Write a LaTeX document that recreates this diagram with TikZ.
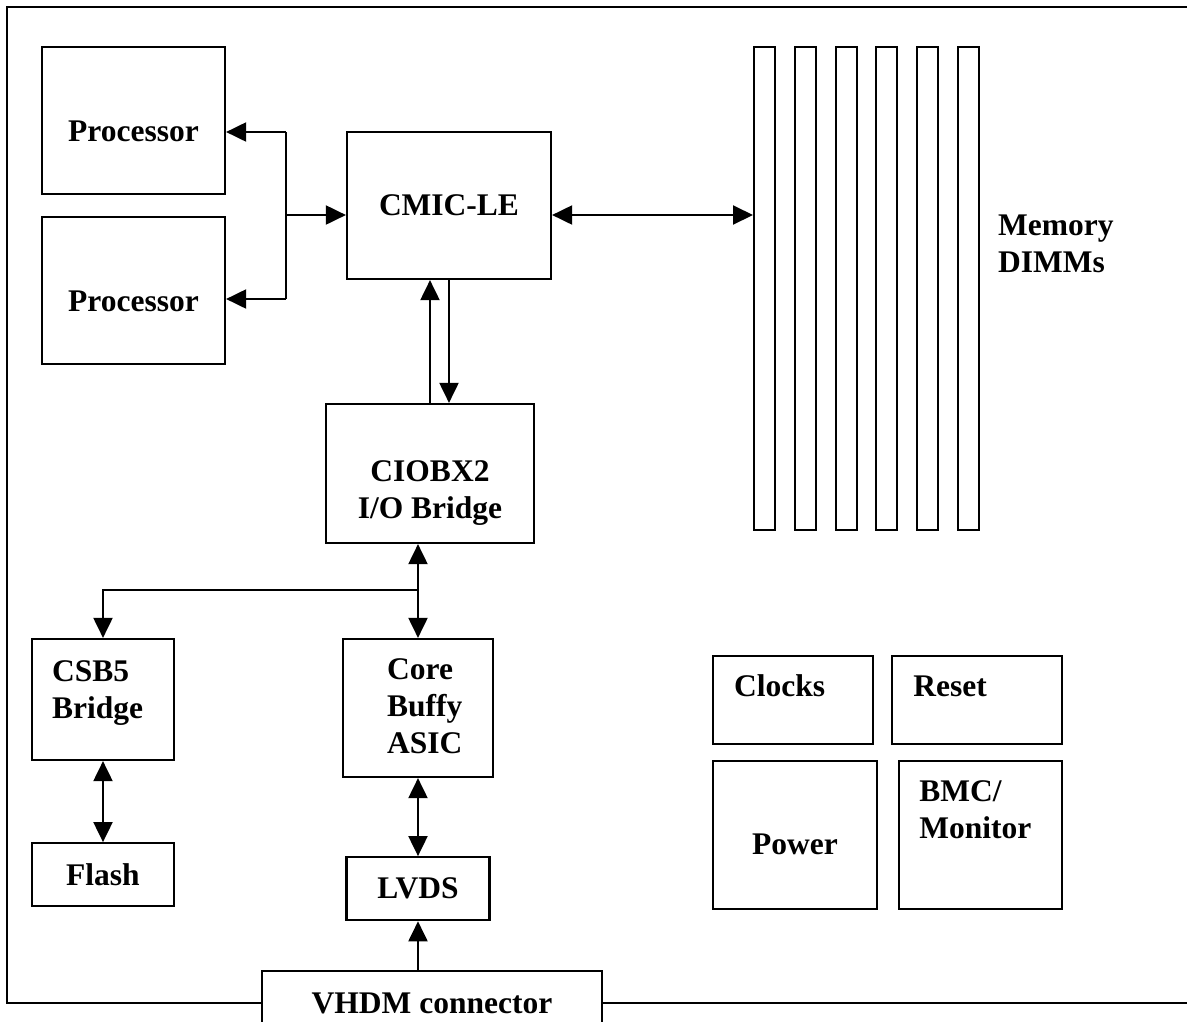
\documentclass[tikz,border=0pt]{standalone}
\usepackage{fontspec}
\setmainfont{Liberation Serif}
\usetikzlibrary{arrows.meta,positioning}

\begin{document}
\begin{tikzpicture}[x=1pt, y=-1pt, font=\bfseries\fontsize{31.5}{37}\selectfont,
  box/.style={draw, line width=2.2pt, fill=white},
  dimm/.style={draw, line width=2pt, minimum width=21pt, minimum height=483pt},
  lbl/.style={inner sep=0pt},
  arr/.style={-{Triangle[length=20pt,width=19pt]}, line width=2pt},
  dblarr/.style={{Triangle[length=20pt,width=19pt]}-{Triangle[length=20pt,width=19pt]}, line width=2pt}]
  \useasboundingbox (0,0) rectangle (1187,1021);
  \clip (0,0) rectangle (1187,1021);
  % board outline
  \draw[line width=2.4pt] (1200,1003) -| (7,7) -- (1200,7);

  % processors and memory controller
  \node[box, minimum width=183pt, minimum height=147pt] (proc1) at (133.5,120.5) {};
  \node[box, minimum width=183pt, minimum height=147pt, below=21pt of proc1] (proc2) {};
  \node[lbl] (proc1txt) at ([yshift=-10.5pt]proc1.center) {Processor};
  \node[lbl] (proc2txt) at ([yshift=-10.5pt]proc2.center) {Processor};
  \node[box, minimum width=204pt, minimum height=147pt] (cmic) at (449,205.5) {CMIC-LE};

  % memory slots
  \foreach \i in {1,...,6}
    \node[dimm] (dimm\i) at ({764.5+40.8*(\i-1)},288.5) {};
  \node[lbl, align=left, anchor=north west] (memtxt) at (998,214.5) {Memory\\DIMMs};

  % I/O path
  \node[box, minimum width=208pt, minimum height=139pt] (ciobx) at (430,473.5) {};
  \node[lbl, align=center] (ciobxtxt) at ([yshift=-20pt]ciobx.center) {CIOBX2\\I/O Bridge};
  \node[box, minimum width=142pt, minimum height=121pt] (csb5) at (103,699.5) {};
  \node[lbl, align=left, anchor=north west] (csb5txt) at ([xshift=21pt,yshift=-22.5pt]csb5.north west) {CSB5\\Bridge};
  \node[box, minimum width=142pt, minimum height=63pt, below=81pt of csb5] (flash) {Flash};
  \node[box, minimum width=150pt, minimum height=138pt] (core) at (418,708) {};
  \node[lbl, align=left, anchor=north west] (coretxt) at ([xshift=45pt,yshift=-20.5pt]core.north west) {Core\\Buffy\\ASIC};
  \node[box, minimum width=143pt, minimum height=63pt, below=78pt of core] (lvds) {LVDS};
  \node[box, minimum width=340pt, minimum height=64pt] (vhdm) at (432,1003) {VHDM connector};

  % support blocks
  \node[box, minimum width=160pt, minimum height=88pt] (clocks) at (793,700) {};
  \node[box, minimum width=170pt, minimum height=88pt, right=17pt of clocks] (reset) {};
  \node[box, minimum width=164pt, minimum height=148pt] (power) at (795,835) {};
  \node[box, minimum width=163pt, minimum height=148pt, right=20pt of power] (bmc) {};
  \node[lbl, anchor=north west] (clockstxt) at ([xshift=22pt,yshift=-20pt]clocks.north west) {Clocks};
  \node[lbl, anchor=north west] (resettxt) at ([xshift=22pt,yshift=-20.5pt]reset.north west) {Reset};
  \node[lbl] (powertxt) at ([yshift=-9pt]power.center) {Power};
  \node[lbl, align=left, anchor=north west] (bmctxt) at ([xshift=21pt,yshift=-20.5pt]bmc.north west) {BMC/\\Monitor};

  % processor bus
  \coordinate (bustop) at (286,132);
  \coordinate (busmid) at (286,215);
  \coordinate (busbot) at (286,299);
  \draw[line width=2pt] (bustop) -- (busbot);
  \draw[arr] (bustop) -- (bustop -| proc1.east);
  \draw[arr] (busbot) -- (busbot -| proc2.east);
  \draw[arr] (busmid) -- (busmid -| cmic.west);
  \draw[dblarr] (busmid -| cmic.east) -- (busmid -| dimm1.west);

  % links
  \draw[arr] (ciobx.north) -- (ciobx.north |- cmic.south);
  \draw[arr] (cmic.south) -- (cmic.south |- ciobx.north);
  \draw[dblarr] (core.north |- ciobx.south) -- (core.north);
  \coordinate (split) at ([yshift=48pt]core.north);
  \draw[arr] (split) -| (csb5.north);
  \draw[dblarr] (csb5.south) -- (csb5.south |- flash.north);
  \draw[dblarr] (core.south) -- (core.south |- lvds.north);
  \draw[arr] (core.south |- vhdm.north) -- (core.south |- lvds.south);
\end{tikzpicture}
\end{document}
